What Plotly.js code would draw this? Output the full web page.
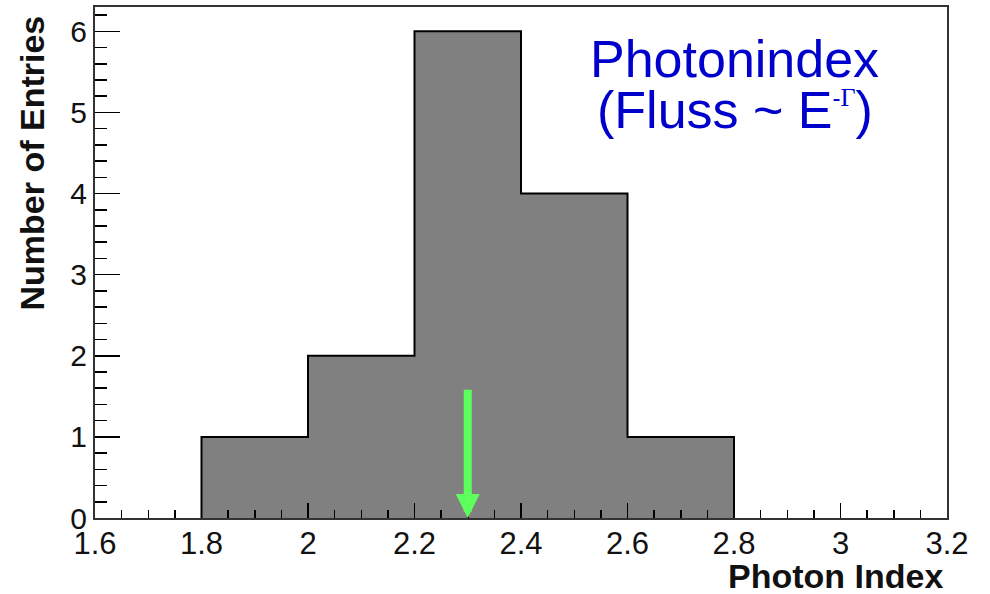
<!DOCTYPE html>
<html>
<head>
<meta charset="utf-8">
<script src="https://cdn.plot.ly/plotly-3.0.1.min.js"></script>
<style>html,body{margin:0;padding:0;background:#fff;}#chart{width:990px;height:594px;}</style>
</head>
<body>
<div id="chart"></div>
<script>
// Histogram data
const binEdges = [1.8, 2.0, 2.2, 2.4, 2.6, 2.8];
const counts = [1, 2, 6, 4, 1];
// Marker arrow (expected photon index)
const arrowX = 2.3;
const arrowTop = 1.6;
const xTitle = "Photon Index";
const yTitle = "Number of Entries";
const labelLine1 = "Photonindex";
const labelLine2 = '(Fluss ~ E<sup><span style="font-size:24px">-</span><span style="font-family:Liberation Serif;font-size:26px">Γ</span></sup>)';

// Build step outline from edges and counts
const sx = [binEdges[0]];
const sy = [0];
for (let i = 0; i < counts.length; i++) { sx.push(binEdges[i]); sy.push(counts[i]); }
sx.push(binEdges[binEdges.length - 1]); sy.push(counts[counts.length - 1]);
sx.push(binEdges[binEdges.length - 1]); sy.push(0);

const trace = {
  x: sx, y: sy, type: 'scatter', mode: 'lines',
  line: {shape: 'hv', color: '#000', width: 2},
  fill: 'tozeroy', fillcolor: '#808080',
  hoverinfo: 'skip', showlegend: false
};

const font = 'Liberation Sans, Arial, sans-serif';
const layout = {
  width: 990, height: 594,
  margin: {l: 95, r: 43, t: 7, b: 76},
  paper_bgcolor: '#fff', plot_bgcolor: '#fff',
  showlegend: false,
  xaxis: {
    range: [1.6, 3.2], dtick: 0.2, tick0: 1.6,
    ticks: 'inside', ticklen: 15, tickwidth: 1.5, tickcolor: '#000',
    minor: {dtick: 0.05, ticks: 'inside', ticklen: 8, tickwidth: 1.5, tickcolor: '#000', showgrid: false},
    showgrid: false, zeroline: false,
    showline: true, linecolor: '#333', linewidth: 2, mirror: true,
    tickfont: {family: font, size: 31, color: '#111'},
    ticklabelstandoff: -3
  },
  yaxis: {
    range: [0, 6.3], dtick: 1, tick0: 0,
    ticks: 'inside', ticklen: 25, tickwidth: 1.5, tickcolor: '#000',
    minor: {dtick: 0.2, ticks: 'inside', ticklen: 12, tickwidth: 1.5, tickcolor: '#000', showgrid: false},
    showgrid: false, zeroline: false,
    showline: true, linecolor: '#333', linewidth: 2, mirror: true,
    tickfont: {family: font, size: 30, color: '#111'},
    ticklabelstandoff: 0
  },
  annotations: [
    {x: arrowX, y: 0, xref: 'x', yref: 'y', ax: arrowX, ay: arrowTop, axref: 'x', ayref: 'y',
     showarrow: true, arrowhead: 2, arrowsize: 0.6, arrowwidth: 8, arrowcolor: '#5cff5c', text: ''},
    {x: 1, y: -0.113, xref: 'paper', yref: 'paper', xanchor: 'right', yanchor: 'middle', xshift: -2,
     text: xTitle, showarrow: false, font: {family: font, size: 34, weight: 'bold', color: '#111'}},
    {x: -0.074, y: 1, xref: 'paper', yref: 'paper', xanchor: 'center', yanchor: 'top', yshift: -6,
     text: yTitle, textangle: -90, showarrow: false, font: {family: font, size: 34, weight: 'bold', color: '#111'}},
    {x: 0.751, y: 0.898, xref: 'paper', yref: 'paper', xanchor: 'center', yanchor: 'middle',
     text: labelLine1, showarrow: false, font: {family: font, size: 52, color: '#0000cc'}},
    {x: 0.751, y: 0.798, xref: 'paper', yref: 'paper', xanchor: 'center', yanchor: 'middle',
     text: labelLine2, showarrow: false, font: {family: font, size: 52, color: '#0000cc'}}
  ]
};

Plotly.newPlot('chart', [trace], layout, {displayModeBar: false, staticPlot: true});
</script>
</body>
</html>
